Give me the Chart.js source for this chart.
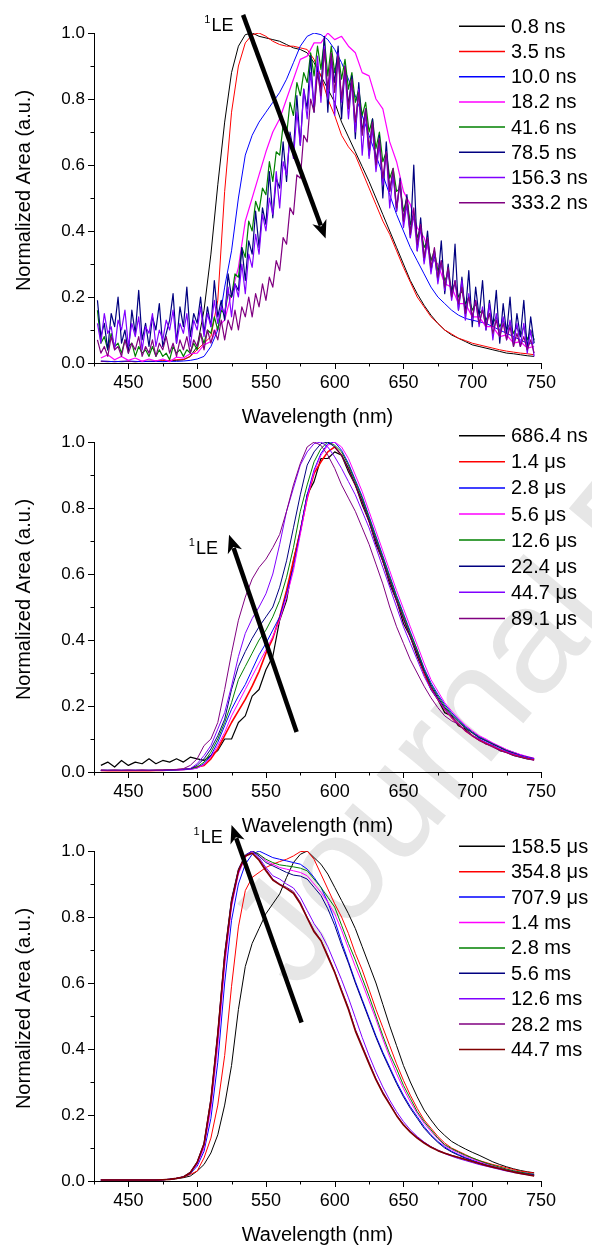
<!DOCTYPE html>
<html><head><meta charset="utf-8">
<script src="https://cdn.jsdelivr.net/npm/chart.js@4/dist/chart.umd.min.js"></script>
<style>
html,body{margin:0;padding:0;background:#fff;overflow:hidden;width:592px;height:1245px;}
canvas{position:absolute;left:0;}
</style></head><body>
<canvas id="wm" width="592" height="1245" style="top:0"></canvas>
<canvas id="c1" width="592" height="433" style="top:0"></canvas>
<canvas id="c2" width="592" height="433" style="top:409px"></canvas>
<canvas id="c3" width="592" height="433" style="top:818px"></canvas>
<script>
const FONT = '"Liberation Sans", Arial, Helvetica, sans-serif';
const XTICKS = [425,450,475,500,525,550,575,600,625,650,675,700,725,750];
const YTICKS = [0,0.1,0.2,0.3,0.4,0.5,0.6,0.7,0.8,0.9,1.0];
const X_TITLE = 'Wavelength (nm)';
const Y_TITLE = 'Normalized Area (a.u.)';
const WATERMARK = 'Journal Pre-proof';

const WL = [430,435,440,445,450,455,460,465,470,475,480,485,490,495,500,505,
510,515,520,525,530,535,540,545,550,555,560,565,570,575,580,585,
590,595,600,605,610,615,620,625,630,635,640,645,650,655,660,665,
670,675,680,685,690,695,700,705,710,715,720,725,730,735,740,745];
const WLN = [427.5,430,432.5,435,437.5,440,442.5,445,447.5,450,452.5,455,457.5,460,462.5,465,
467.5,470,472.5,475,477.5,480,482.5,485,487.5,490,492.5,495,497.5,500,502.5,505,
507.5,510,512.5,515,517.5,520,522.5,525,527.5,530,532.5,535,537.5,540,542.5,545,
547.5,550,552.5,555,557.5,560,562.5,565,567.5,570,572.5,575,577.5,580,582.5,585,
587.5,590,592.5,595,597.5,600,602.5,605,607.5,610,612.5,615,617.5,620,622.5,625,
627.5,630,632.5,635,637.5,640,642.5,645,647.5,650,652.5,655,657.5,660,662.5,665,
667.5,670,672.5,675,677.5,680,682.5,685,687.5,690,692.5,695,697.5,700,702.5,705,
707.5,710,712.5,715,717.5,720,722.5,725,727.5,730,732.5,735,737.5,740,742.5,745];

/* ---------- Panel 1 (ns) ---------- */
const P1_LABELS = ['0.8 ns','3.5 ns','10.0 ns','18.2 ns','41.6 ns','78.5 ns','156.3 ns','333.2 ns'];
const P1_COLORS = ['#000000','#FF0000','#0000FF','#FF00FF','#008000','#000080','#8000FF','#800080'];
const P1_0_8 = [0.005,0.004,0.005,0.004,0.005,0.004,0.005,0.005,
0.005,0.006,0.007,0.008,0.01,0.02,0.05,0.16,
0.33,0.54,0.73,0.88,0.96,0.995,1.0,0.99,
0.985,0.98,0.975,0.965,0.955,0.95,0.94,0.91,
0.87,0.83,0.79,0.73,0.685,0.64,0.595,0.55,
0.5,0.45,0.4,0.35,0.3,0.25,0.21,0.175,
0.145,0.12,0.1,0.085,0.075,0.065,0.055,0.05,
0.045,0.04,0.035,0.03,0.028,0.025,0.022,0.02];
const P1_3_5 = [0.005,0.005,0.004,0.005,0.005,0.004,0.005,0.005,
0.006,0.007,0.008,0.01,0.01,0.02,0.04,0.06,
0.08,0.19,0.52,0.76,0.9,0.97,0.995,1.0,
0.99,0.975,0.965,0.96,0.96,0.955,0.95,0.92,
0.87,0.8,0.75,0.69,0.655,0.63,0.58,0.53,
0.48,0.43,0.39,0.34,0.29,0.245,0.2,0.17,
0.14,0.12,0.1,0.088,0.075,0.068,0.06,0.055,
0.05,0.045,0.04,0.036,0.033,0.03,0.028,0.025];
const P1_10_0 = [0.006,0.005,0.004,0.005,0.006,0.005,0.004,0.005,
0.005,0.004,0.005,0.005,0.006,0.008,0.012,0.02,
0.05,0.1,0.23,0.34,0.5,0.63,0.69,0.73,
0.76,0.79,0.82,0.86,0.91,0.96,0.99,1.0,
0.995,0.98,0.95,0.91,0.86,0.81,0.75,0.69,
0.63,0.57,0.51,0.45,0.4,0.35,0.31,0.27,
0.23,0.2,0.18,0.16,0.145,0.135,0.13,0.125,
0.12,0.11,0.1,0.09,0.08,0.07,0.06,0.06];
const P1_18_2 = [0.015,0.025,0.01,0.02,0.008,0.015,0.005,0.012,
0.006,0.012,0.004,0.018,0.015,0.028,0.03,0.055,
0.065,0.11,0.13,0.21,0.29,0.43,0.5,0.57,
0.64,0.7,0.74,0.8,0.86,0.92,0.93,0.97,
0.97,1.0,0.98,0.99,0.96,0.94,0.88,0.87,
0.8,0.77,0.67,0.61,0.52,0.48,0.41,0.38,
0.32,0.3,0.24,0.23,0.18,0.18,0.14,0.14,
0.11,0.11,0.08,0.085,0.06,0.065,0.045,0.05];
const P1_41_6 = [0.16,0.06,0.08,0.04,0.09,0.05,0.06,0.03,0.07,0.05,0.06,0.02,0.05,0.03,0.04,0.02,
0.05,0.02,0.04,0.02,0.03,0.01,0.05,0.03,0.04,0.02,0.04,0.03,0.06,0.04,0.09,0.06,
0.1,0.09,0.14,0.1,0.16,0.15,0.21,0.2,0.27,0.26,0.35,0.32,0.43,0.4,0.49,0.46,
0.53,0.51,0.61,0.55,0.64,0.63,0.72,0.69,0.79,0.75,0.85,0.81,0.88,0.85,0.94,0.87,
0.96,0.89,0.98,0.87,0.96,0.88,0.94,0.86,0.92,0.83,0.88,0.79,0.83,0.75,0.79,0.7,
0.74,0.65,0.7,0.61,0.64,0.56,0.59,0.52,0.53,0.46,0.5,0.42,0.45,0.38,0.41,0.35,
0.37,0.31,0.34,0.28,0.3,0.25,0.27,0.22,0.24,0.2,0.22,0.18,0.2,0.16,0.18,0.15,
0.16,0.13,0.15,0.12,0.14,0.11,0.13,0.1,0.12,0.09,0.11,0.08,0.11,0.07,0.1,0.07];
const P1_78_5 = [0.19,0.08,0.12,0.04,0.15,0.11,0.2,0.06,0.1,0.03,0.16,0.09,0.22,0.07,0.12,0.05,
0.14,0.1,0.18,0.05,0.09,0.13,0.21,0.06,0.17,0.11,0.23,0.08,0.15,0.12,0.2,0.09,
0.17,0.11,0.25,0.14,0.19,0.13,0.27,0.2,0.24,0.22,0.35,0.25,0.37,0.33,0.46,0.35,
0.47,0.42,0.58,0.44,0.56,0.53,0.67,0.55,0.7,0.64,0.81,0.66,0.83,0.77,0.93,0.76,
0.9,0.83,0.99,0.76,0.93,0.85,0.96,0.74,0.9,0.78,0.87,0.68,0.85,0.7,0.77,0.63,
0.74,0.6,0.69,0.5,0.67,0.52,0.58,0.46,0.56,0.43,0.51,0.38,0.6,0.34,0.44,0.31,
0.4,0.28,0.33,0.25,0.37,0.21,0.3,0.2,0.36,0.16,0.26,0.15,0.28,0.11,0.23,0.14,
0.25,0.1,0.19,0.11,0.22,0.06,0.18,0.09,0.2,0.05,0.15,0.08,0.19,0.04,0.14,0.06];
const P1_156_3 = [0.12,0.06,0.15,0.09,0.11,0.04,0.13,0.1,0.16,0.05,0.12,0.08,0.14,0.04,0.11,0.09,
0.15,0.05,0.1,0.07,0.13,0.1,0.16,0.06,0.12,0.09,0.15,0.05,0.13,0.1,0.17,0.08,
0.15,0.11,0.19,0.12,0.17,0.15,0.23,0.14,0.24,0.2,0.3,0.21,0.33,0.29,0.39,0.33,
0.45,0.4,0.5,0.45,0.58,0.47,0.61,0.57,0.69,0.62,0.76,0.66,0.83,0.74,0.88,0.78,
0.93,0.79,0.96,0.8,0.92,0.75,0.94,0.79,0.88,0.74,0.85,0.7,0.83,0.63,0.76,0.62,
0.71,0.58,0.66,0.54,0.64,0.47,0.57,0.46,0.55,0.41,0.48,0.38,0.45,0.34,0.41,0.3,
0.37,0.27,0.34,0.24,0.31,0.22,0.28,0.19,0.25,0.16,0.25,0.13,0.21,0.13,0.19,0.11,
0.17,0.1,0.18,0.07,0.15,0.08,0.14,0.07,0.13,0.06,0.12,0.05,0.12,0.03,0.1,0.02];
const P1_333_2 = [0.07,0.03,0.05,0.02,0.08,0.04,0.05,0.02,0.07,0.03,0.06,0.04,0.08,0.02,0.05,0.03,
0.07,0.02,0.06,0.04,0.08,0.03,0.06,0.02,0.07,0.04,0.08,0.03,0.07,0.05,0.09,0.04,
0.1,0.06,0.1,0.07,0.13,0.07,0.13,0.1,0.16,0.1,0.17,0.14,0.2,0.14,0.21,0.17,
0.24,0.19,0.26,0.23,0.31,0.28,0.38,0.36,0.47,0.45,0.57,0.56,0.69,0.67,0.8,0.76,
0.88,0.81,0.95,0.83,0.94,0.82,0.93,0.8,0.9,0.77,0.86,0.73,0.82,0.69,0.77,0.65,
0.73,0.6,0.68,0.56,0.64,0.52,0.59,0.47,0.55,0.43,0.5,0.39,0.47,0.36,0.42,0.32,
0.38,0.29,0.35,0.26,0.31,0.23,0.29,0.2,0.25,0.18,0.23,0.15,0.2,0.14,0.19,0.12,
0.16,0.11,0.15,0.09,0.13,0.08,0.12,0.07,0.11,0.05,0.09,0.05,0.08,0.04,0.07,0.03];

/* ---------- Panel 2 (ns / µs) ---------- */
const P2_LABELS = ['686.4 ns','1.4 \u03bcs','2.8 \u03bcs','5.6 \u03bcs','12.6 \u03bcs','22.4 \u03bcs','44.7 \u03bcs','89.1 \u03bcs'];
const P2_COLORS = ['#000000','#FF0000','#0000FF','#FF00FF','#008000','#000080','#8000FF','#800080'];
const P2_686_4 = [0.02,0.03,0.015,0.035,0.02,0.03,0.025,0.04,
0.025,0.035,0.03,0.04,0.03,0.045,0.04,0.035,
0.05,0.065,0.1,0.1,0.15,0.17,0.23,0.25,
0.31,0.35,0.46,0.52,0.64,0.73,0.84,0.88,
0.95,0.95,0.97,0.96,0.91,0.87,0.81,0.76,
0.69,0.64,0.57,0.52,0.45,0.41,0.35,0.3,
0.25,0.22,0.18,0.17,0.14,0.13,0.11,0.1,
0.085,0.08,0.065,0.06,0.05,0.045,0.04,0.038];
const P2_1_4 = [0.005,0.004,0.005,0.004,0.005,0.004,0.005,0.004,
0.005,0.005,0.006,0.007,0.008,0.01,0.015,0.02,
0.04,0.07,0.11,0.15,0.185,0.22,0.26,0.305,
0.36,0.405,0.47,0.55,0.64,0.73,0.83,0.905,
0.94,0.97,0.985,0.96,0.92,0.87,0.82,0.76,
0.7,0.64,0.58,0.52,0.465,0.41,0.36,0.3,
0.255,0.22,0.19,0.165,0.145,0.125,0.11,0.097,
0.087,0.078,0.068,0.06,0.053,0.047,0.042,0.037];
const P2_2_8 = [0.005,0.005,0.005,0.005,0.005,0.005,0.005,0.005,
0.005,0.005,0.005,0.006,0.007,0.008,0.012,0.025,
0.05,0.09,0.14,0.19,0.23,0.265,0.31,0.355,
0.39,0.43,0.47,0.54,0.62,0.73,0.84,0.915,
0.965,0.995,1.0,0.975,0.935,0.885,0.835,0.775,
0.715,0.655,0.595,0.535,0.48,0.425,0.37,0.315,
0.27,0.235,0.205,0.18,0.158,0.138,0.122,0.108,
0.097,0.087,0.077,0.067,0.06,0.052,0.046,0.041];
const P2_5_6 = [0.005,0.005,0.005,0.005,0.005,0.005,0.005,0.005,
0.005,0.005,0.005,0.006,0.007,0.008,0.012,0.022,
0.045,0.08,0.12,0.17,0.21,0.25,0.29,0.33,
0.37,0.41,0.46,0.53,0.61,0.72,0.83,0.91,
0.96,0.99,1.0,0.985,0.95,0.9,0.85,0.79,
0.73,0.67,0.61,0.55,0.495,0.44,0.385,0.33,
0.28,0.245,0.21,0.185,0.163,0.142,0.125,0.11,
0.1,0.088,0.078,0.068,0.06,0.053,0.047,0.042];
const P2_12_6 = [0.005,0.005,0.005,0.005,0.005,0.005,0.005,0.005,
0.005,0.005,0.006,0.007,0.008,0.01,0.015,0.03,
0.06,0.1,0.15,0.21,0.28,0.32,0.36,0.4,
0.43,0.47,0.52,0.59,0.68,0.79,0.87,0.94,
0.98,1.0,0.99,0.97,0.93,0.88,0.83,0.77,
0.71,0.65,0.59,0.53,0.475,0.42,0.37,0.31,
0.265,0.23,0.2,0.175,0.155,0.135,0.12,0.105,
0.095,0.085,0.075,0.065,0.058,0.05,0.045,0.04];
const P2_22_4 = [0.005,0.005,0.005,0.005,0.005,0.005,0.005,0.005,
0.005,0.005,0.006,0.007,0.008,0.01,0.02,0.04,
0.07,0.11,0.16,0.25,0.32,0.365,0.405,0.44,
0.47,0.5,0.56,0.64,0.74,0.84,0.93,0.97,
0.995,1.0,0.985,0.96,0.92,0.87,0.82,0.76,
0.7,0.64,0.58,0.52,0.465,0.41,0.36,0.305,
0.26,0.225,0.195,0.172,0.152,0.133,0.118,0.104,
0.094,0.084,0.074,0.064,0.057,0.05,0.045,0.04];
const P2_44_7 = [0.005,0.005,0.005,0.005,0.005,0.005,0.005,0.005,
0.005,0.005,0.006,0.007,0.008,0.01,0.025,0.05,
0.08,0.13,0.18,0.26,0.35,0.42,0.465,0.5,
0.54,0.6,0.69,0.79,0.86,0.93,0.97,0.995,
1.0,0.985,0.955,0.92,0.88,0.84,0.79,0.74,
0.68,0.62,0.56,0.5,0.44,0.39,0.34,0.29,
0.25,0.22,0.19,0.165,0.145,0.125,0.11,0.1,
0.09,0.08,0.07,0.062,0.055,0.05,0.045,0.04];
const P2_89_1 = [0.005,0.005,0.005,0.005,0.005,0.005,0.005,0.005,
0.005,0.006,0.007,0.008,0.01,0.02,0.04,0.08,
0.1,0.15,0.25,0.36,0.46,0.53,0.585,0.62,
0.645,0.68,0.72,0.79,0.87,0.935,0.985,1.0,
0.99,0.96,0.92,0.87,0.83,0.79,0.74,0.69,
0.63,0.57,0.5,0.44,0.39,0.34,0.3,0.26,
0.225,0.195,0.17,0.155,0.145,0.125,0.11,0.095,
0.085,0.075,0.065,0.058,0.05,0.045,0.04,0.035];

/* ---------- Panel 3 (µs / ms) ---------- */
const P3_LABELS = ['158.5 \u03bcs','354.8 \u03bcs','707.9 \u03bcs','1.4 ms','2.8 ms','5.6 ms','12.6 ms','28.2 ms','44.7 ms'];
const P3_COLORS = ['#000000','#FF0000','#0000FF','#FF00FF','#008000','#000080','#8000FF','#800080','#800000'];
const P3_158_5 = [0.003,0.003,0.003,0.003,0.003,0.003,0.003,0.003,
0.003,0.004,0.005,0.007,0.01,0.015,0.03,0.05,
0.085,0.14,0.23,0.35,0.52,0.65,0.72,0.765,
0.81,0.84,0.87,0.92,0.965,0.99,1.0,0.98,
0.96,0.93,0.89,0.85,0.81,0.765,0.71,0.655,
0.6,0.535,0.47,0.41,0.35,0.3,0.255,0.215,
0.185,0.158,0.138,0.12,0.108,0.097,0.087,0.078,
0.068,0.058,0.05,0.043,0.037,0.032,0.028,0.025];
const P3_354_8 = [0.003,0.003,0.003,0.003,0.003,0.003,0.003,0.003,
0.003,0.004,0.005,0.008,0.012,0.02,0.03,0.07,
0.13,0.23,0.38,0.59,0.77,0.88,0.92,0.935,
0.95,0.96,0.968,0.975,0.985,0.998,1.0,0.975,
0.93,0.885,0.84,0.8,0.75,0.69,0.64,0.58,
0.52,0.465,0.41,0.355,0.305,0.26,0.22,0.185,
0.16,0.135,0.115,0.1,0.09,0.08,0.07,0.062,
0.056,0.05,0.045,0.04,0.035,0.03,0.027,0.024];
const P3_707_9 = [0.003,0.003,0.003,0.003,0.003,0.003,0.003,0.003,
0.003,0.004,0.005,0.008,0.012,0.022,0.045,0.09,
0.19,0.36,0.6,0.79,0.9,0.96,0.99,1.0,
0.99,0.98,0.975,0.97,0.965,0.96,0.945,0.92,
0.89,0.845,0.79,0.725,0.665,0.605,0.55,0.495,
0.44,0.39,0.345,0.3,0.26,0.225,0.195,0.165,
0.14,0.12,0.103,0.09,0.08,0.071,0.063,0.056,
0.05,0.044,0.039,0.034,0.03,0.026,0.023,0.02];
const P3_1_4 = [0.003,0.003,0.003,0.003,0.003,0.003,0.003,0.003,
0.003,0.004,0.005,0.008,0.012,0.024,0.05,0.1,
0.22,0.41,0.65,0.83,0.93,0.98,1.0,0.99,
0.97,0.96,0.95,0.945,0.94,0.935,0.925,0.9,
0.875,0.845,0.81,0.76,0.705,0.65,0.6,0.545,
0.49,0.43,0.375,0.325,0.28,0.24,0.205,0.175,
0.15,0.128,0.107,0.095,0.085,0.075,0.067,0.059,
0.052,0.046,0.04,0.035,0.03,0.026,0.022,0.019];
const P3_2_8 = [0.003,0.003,0.003,0.003,0.003,0.003,0.003,0.003,
0.003,0.004,0.005,0.008,0.012,0.025,0.055,0.11,
0.24,0.44,0.68,0.85,0.94,0.985,1.0,0.99,
0.975,0.965,0.958,0.955,0.952,0.948,0.94,0.915,
0.89,0.86,0.83,0.775,0.72,0.67,0.615,0.56,
0.5,0.44,0.385,0.34,0.29,0.25,0.21,0.18,
0.155,0.13,0.11,0.098,0.088,0.078,0.07,0.062,
0.054,0.048,0.042,0.036,0.031,0.027,0.023,0.02];
const P3_5_6 = [0.003,0.003,0.003,0.003,0.003,0.003,0.003,0.003,
0.003,0.004,0.005,0.008,0.013,0.027,0.058,0.115,
0.25,0.45,0.69,0.855,0.945,0.988,1.0,0.985,
0.965,0.955,0.945,0.935,0.927,0.924,0.915,0.89,
0.865,0.825,0.775,0.715,0.66,0.6,0.545,0.49,
0.435,0.385,0.34,0.295,0.255,0.22,0.19,0.16,
0.137,0.117,0.1,0.088,0.078,0.069,0.061,0.054,
0.048,0.042,0.037,0.032,0.028,0.024,0.021,0.018];
const P3_12_6 = [0.003,0.003,0.003,0.003,0.003,0.003,0.003,0.003,
0.003,0.004,0.005,0.008,0.012,0.025,0.055,0.11,
0.24,0.44,0.67,0.84,0.935,0.985,1.0,0.98,
0.95,0.925,0.915,0.9,0.888,0.86,0.82,0.78,
0.75,0.71,0.66,0.61,0.555,0.495,0.435,0.38,
0.33,0.285,0.245,0.21,0.18,0.155,0.135,0.118,
0.104,0.092,0.083,0.075,0.068,0.062,0.056,0.05,
0.045,0.04,0.035,0.03,0.026,0.022,0.019,0.016];
const P3_28_2 = [0.003,0.003,0.003,0.003,0.003,0.003,0.003,0.003,
0.003,0.004,0.005,0.008,0.012,0.025,0.056,0.112,
0.245,0.445,0.68,0.845,0.94,0.985,0.995,0.975,
0.945,0.915,0.9,0.89,0.877,0.845,0.8,0.76,
0.73,0.685,0.635,0.58,0.525,0.46,0.41,0.36,
0.31,0.27,0.235,0.2,0.172,0.15,0.132,0.117,
0.104,0.094,0.085,0.078,0.072,0.066,0.06,0.054,
0.048,0.043,0.038,0.033,0.028,0.024,0.02,0.016];
const P3_44_7 = [0.003,0.003,0.003,0.003,0.003,0.003,0.003,0.003,
0.003,0.004,0.005,0.008,0.012,0.025,0.056,0.112,
0.245,0.445,0.68,0.845,0.94,0.985,0.993,0.972,
0.94,0.912,0.898,0.886,0.872,0.84,0.797,0.755,
0.728,0.68,0.632,0.575,0.52,0.455,0.405,0.355,
0.307,0.266,0.232,0.198,0.17,0.148,0.13,0.115,
0.102,0.092,0.084,0.077,0.071,0.065,0.059,0.053,
0.047,0.042,0.037,0.032,0.027,0.023,0.019,0.015];

/* annotation anchors, in data units (wavelength, normalized area) */
const P1_ARROW = {from:[533.4,1.055], to:[593.4,0.377]};
const P2_ARROW = {from:[572.3,0.121], to:[523.2,0.719]};
const P3_ARROW = {from:[575.9,0.48], to:[525.0,1.079]};
const P1_LE = [510.4,1.02];
const P2_LE = [499.1,0.676];
const P3_LE = [502.6,1.039];

/* ---------- drawing ---------- */
function series(label, color, xs, ys, w) {
  return {label, borderColor:color, backgroundColor:color, borderWidth:w, pointRadius:0,
          data: xs.map((x,i)=>({x:x, y:ys[i]}))};
}

const decor = {
  id:'decor',
  afterDraw(chart, args, o) {
    const ctx = chart.ctx, ca = chart.chartArea;
    const xs = chart.scales.x, ys = chart.scales.y;
    ctx.save();
    ctx.strokeStyle = '#000'; ctx.lineWidth = 1;
    ctx.beginPath();
    XTICKS.forEach(v => {
      const px = Math.round(xs.getPixelForValue(v)) + 0.5;
      const len = (v % 50 === 0) ? 6 : 3.5;
      ctx.moveTo(px, ca.bottom); ctx.lineTo(px, ca.bottom + len);
    });
    YTICKS.forEach(v => {
      const py = Math.round(ys.getPixelForValue(v)) + 0.5;
      const len = (Math.round(v*10) % 2 === 0) ? 6 : 3.5;
      ctx.moveTo(ca.left, py); ctx.lineTo(ca.left - len, py);
    });
    ctx.stroke();
    ctx.save();
    ctx.fillStyle = '#000';
    ctx.font = '20px ' + FONT;
    ctx.textAlign = 'center'; ctx.textBaseline = 'middle';
    ctx.translate(24, (ca.top + ca.bottom)/2 - 7.5);
    ctx.rotate(-Math.PI/2);
    ctx.fillText(Y_TITLE, 0, 0);
    ctx.restore();
    const L = o.legend;
    ctx.font = '20px ' + FONT;
    ctx.textAlign = 'left'; ctx.textBaseline = 'middle';
    chart.data.datasets.forEach((ds, i) => {
      const y = L.y + i * L.dy;
      ctx.strokeStyle = ds.borderColor; ctx.lineWidth = 1.5;
      ctx.beginPath(); ctx.moveTo(L.x, y - 1); ctx.lineTo(L.x + 46, y - 1); ctx.stroke();
      ctx.fillStyle = '#000';
      ctx.fillText(ds.label, L.x + 52, y);
    });
    const A = o.arrow;
    const x0 = xs.getPixelForValue(A.from[0]), y0 = ys.getPixelForValue(A.from[1]);
    const x1 = xs.getPixelForValue(A.to[0]), y1 = ys.getPixelForValue(A.to[1]);
    const dx = x1 - x0, dy = y1 - y0, ln = Math.hypot(dx, dy), ux = dx/ln, uy = dy/ln;
    const hl = 18, hw = 7.5;
    const bx = x1 - ux*hl, by = y1 - uy*hl;
    ctx.strokeStyle = '#000'; ctx.lineWidth = 4.5; ctx.lineCap = 'butt';
    ctx.beginPath(); ctx.moveTo(x0, y0); ctx.lineTo(bx + ux*4, by + uy*4); ctx.stroke();
    ctx.fillStyle = '#000';
    ctx.beginPath();
    ctx.moveTo(x1, y1);
    ctx.lineTo(bx - uy*hw, by + ux*hw);
    ctx.lineTo(x1 - ux*hl*0.72, y1 - uy*hl*0.72);
    ctx.lineTo(bx + uy*hw, by - ux*hw);
    ctx.closePath(); ctx.fill();
    const lx = xs.getPixelForValue(o.le[0]), ly = ys.getPixelForValue(o.le[1]);
    ctx.font = '18px ' + FONT; ctx.textAlign = 'left'; ctx.textBaseline = 'middle';
    ctx.fillText('LE', lx, ly);
    ctx.font = '11px ' + FONT; ctx.textAlign = 'right'; ctx.textBaseline = 'alphabetic';
    ctx.fillText('1', lx - 1, ly - 3);
    ctx.restore();
  }
};

function makeChart(id, datasets, deco) {
  datasets.forEach((d, i) => { d.order = -i; });
  return new Chart(document.getElementById(id), {
    type:'line',
    data:{datasets},
    options:{
      responsive:false, animation:false, devicePixelRatio:1,
      layout:{padding:{top:33, right:51, bottom:0, left:0}},
      elements:{line:{tension:0, borderJoinStyle:'round'}, point:{radius:0}},
      plugins:{legend:{display:false}, tooltip:{enabled:false}, decor:deco},
      scales:{
        x:{type:'linear', min:425, max:750,
          afterBuildTicks: s => { s.ticks = XTICKS.map(v => ({value:v})); },
          afterFit: s => { s.height = 70; },
          ticks:{autoSkip:false, maxRotation:0, padding:3, color:'#000',
                 font:{family:FONT, size:18},
                 callback: v => (v % 50 === 0 ? String(v) : '')},
          grid:{drawOnChartArea:false, drawTicks:true, tickLength:6, color:'rgba(0,0,0,0)'},
          border:{display:true, color:'#000', width:1},
          title:{display:true, text:X_TITLE, color:'#000', font:{family:FONT, size:20},
                 padding:{top:0, bottom:4}}
        },
        y:{type:'linear', min:0, max:1,
          afterBuildTicks: s => { s.ticks = YTICKS.map(v => ({value:v})); },
          afterFit: s => { s.width = 94; },
          ticks:{autoSkip:false, padding:3, color:'#000',
                 font:{family:FONT, size:17},
                 callback: v => (Math.round(v*10) % 2 === 0 ? v.toFixed(1) : '')},
          grid:{drawOnChartArea:false, drawTicks:true, tickLength:6, color:'rgba(0,0,0,0)'},
          border:{display:true, color:'#000', width:1},
          title:{display:false}
        }
      }
    },
    plugins:[decor]
  });
}

(function(){
  const c = document.getElementById('wm').getContext('2d');
  c.save();
  c.translate(297, 993);
  c.rotate(-50 * Math.PI / 180);
  c.font = '150px ' + FONT;
  c.fillStyle = '#e6e6e6';
  c.fillText(WATERMARK, 0, 0);
  c.restore();
})();

makeChart('c1', [
  series(P1_LABELS[0], P1_COLORS[0], WL, P1_0_8, 1),
  series(P1_LABELS[1], P1_COLORS[1], WL, P1_3_5, 1),
  series(P1_LABELS[2], P1_COLORS[2], WL, P1_10_0, 1),
  series(P1_LABELS[3], P1_COLORS[3], WL, P1_18_2, 1.2),
  series(P1_LABELS[4], P1_COLORS[4], WLN, P1_41_6, 1.2),
  series(P1_LABELS[5], P1_COLORS[5], WLN, P1_78_5, 1.2),
  series(P1_LABELS[6], P1_COLORS[6], WLN, P1_156_3, 1.2),
  series(P1_LABELS[7], P1_COLORS[7], WLN, P1_333_2, 1.2)
], {legend:{x:459, y:27.3, dy:25.2}, arrow:P1_ARROW, le:P1_LE});

makeChart('c2', [
  series(P2_LABELS[0], P2_COLORS[0], WL, P2_686_4, 1.2),
  series(P2_LABELS[1], P2_COLORS[1], WL, P2_1_4, 1.6),
  series(P2_LABELS[2], P2_COLORS[2], WL, P2_2_8, 1),
  series(P2_LABELS[3], P2_COLORS[3], WL, P2_5_6, 1),
  series(P2_LABELS[4], P2_COLORS[4], WL, P2_12_6, 1),
  series(P2_LABELS[5], P2_COLORS[5], WL, P2_22_4, 1),
  series(P2_LABELS[6], P2_COLORS[6], WL, P2_44_7, 1),
  series(P2_LABELS[7], P2_COLORS[7], WL, P2_89_1, 1)
], {legend:{x:459, y:27.7, dy:26.1}, arrow:P2_ARROW, le:P2_LE});

makeChart('c3', [
  series(P3_LABELS[0], P3_COLORS[0], WL, P3_158_5, 1),
  series(P3_LABELS[1], P3_COLORS[1], WL, P3_354_8, 1),
  series(P3_LABELS[2], P3_COLORS[2], WL, P3_707_9, 1),
  series(P3_LABELS[3], P3_COLORS[3], WL, P3_1_4, 1),
  series(P3_LABELS[4], P3_COLORS[4], WL, P3_2_8, 1),
  series(P3_LABELS[5], P3_COLORS[5], WL, P3_5_6, 1),
  series(P3_LABELS[6], P3_COLORS[6], WL, P3_12_6, 1),
  series(P3_LABELS[7], P3_COLORS[7], WL, P3_28_2, 1),
  series(P3_LABELS[8], P3_COLORS[8], WL, P3_44_7, 1.6)
], {legend:{x:459, y:29.3, dy:25.4}, arrow:P3_ARROW, le:P3_LE});
</script>
</body></html>
